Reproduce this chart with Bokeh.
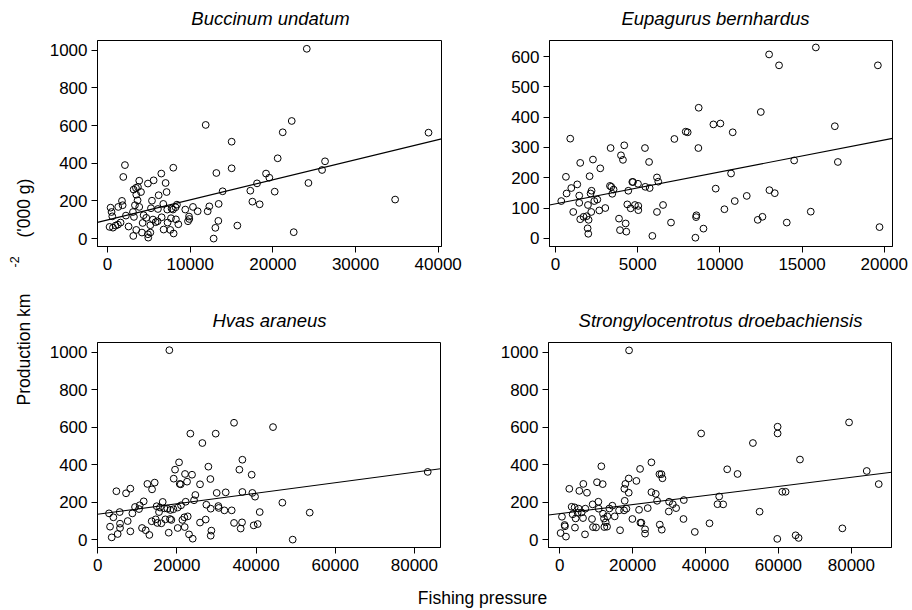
import math
from bokeh.plotting import figure
from bokeh.layouts import row, column
from bokeh.models import Range1d, FixedTicker, BasicTickFormatter
from bokeh.core.properties import value
from bokeh.embed import file_html
from bokeh.resources import INLINE

FONT = "Liberation Sans"

# ---------------- data ----------------
titles = ["Buccinum undatum", "Eupagurus bernhardus", "Hvas araneus",
          "Strongylocentrotus droebachiensis"]
x_label = "Fishing pressure"
y_label_main = "Production km"
y_label_sup = "-2"
y_label_unit = "('000 g)"

buc_x = [24100, 11870, 22280, 21190, 38830, 15010, 20580, 26310, 2100, 7950,
         15010, 25950, 13160, 6500, 19170, 1900, 19570, 7020, 3830, 4880,
         5570, 18080, 24300, 3150, 3430, 3670, 4040, 7140, 13920, 17270,
         20220, 3470, 6180, 1740, 3630, 5370, 17520, 18400, 1820, 360,
         1290, 3310, 3830, 5250, 6090, 6740, 7220, 7750, 7910, 8230,
         8390, 9400, 10330, 10900, 12110, 12310, 13440, 480, 570, 2220,
         3070, 3190, 4360, 4680, 5490, 5810, 6050, 6540, 7260, 7670,
         8270, 8560, 9730, 9850, 9890, 13400, 240, 650, 970, 1250,
         1570, 2540, 3470, 4240, 5170, 4160, 5170, 4880, 4920, 3110,
         6780, 7590, 7990, 13040, 15700, 12830, 22520, 34790]
buc_y = [1007, 603, 624, 564, 562, 514, 426, 410, 390, 376,
         373, 364, 348, 345, 345, 327, 323, 295, 307, 292,
         309, 293, 295, 260, 269, 274, 247, 247, 251, 254,
         249, 233, 230, 200, 203, 201, 196, 182, 177, 164,
         168, 177, 168, 161, 157, 184, 154, 159, 154, 166,
         180, 154, 168, 145, 145, 171, 184, 141, 118, 122,
         141, 115, 124, 110, 101, 87, 92, 113, 85, 108,
         102, 76, 92, 117, 104, 94, 62, 58, 69, 74,
         85, 64, 46, 83, 71, 32, 32, 23, 5, 14,
         48, 46, 27, 57, 69, 0, 34, 207]

eup_x = [15840, 12995, 13600, 19615, 8710, 12490, 9605, 10030, 16995, 7920,
         8040, 10780, 7230, 893, 3350, 4180, 5440, 8690, 3980, 4100,
         1500, 2275, 5690, 2720, 14520, 17180, 630, 2070, 10680, 6170,
         6250, 4670, 4710, 5015, 1320, 955, 3310, 3390, 3530, 3450,
         5460, 5725, 670, 1440, 2190, 2130, 4425, 9745, 13015, 13340,
         11635, 2355, 2540, 345, 1440, 1970, 4365, 4830, 5035, 4570,
         5035, 6540, 10905, 10275, 1075, 2170, 2660, 3025, 6170, 1705,
         1890, 1500, 2010, 3860, 8570, 8550, 12590, 12305, 15530, 4265,
         7025, 14070, 1950, 3920, 4305, 1990, 9000, 5890, 8510, 19715]
eup_y = [630, 607, 571, 571, 431, 417, 376, 379, 370, 352,
         350, 350, 328, 329, 298, 307, 298, 298, 274, 259,
         249, 260, 252, 231, 257, 252, 203, 205, 214, 201,
         187, 186, 186, 180, 178, 166, 173, 170, 161, 147,
         170, 166, 148, 141, 157, 148, 157, 164, 159, 149,
         140, 123, 128, 123, 117, 110, 112, 110, 107, 99,
         93, 110, 123, 96, 87, 87, 92, 100, 87, 71,
         73, 63, 61, 65, 76, 70, 71, 61, 88, 49,
         52, 52, 33, 27, 22, 15, 32, 8, 2, 37]

hya_x = [18100, 34440, 44290, 23410, 29810, 26440, 36550, 20550, 27960, 19540,
         35790, 22060, 23830, 38900, 19200, 28470, 22570, 20720, 20970, 12550,
         14400, 25850, 13730, 8250, 4720, 7160, 24670, 30060, 32340, 36550,
         39070, 39750, 11620, 16420, 22230, 24340, 46650, 10610, 9430, 10440,
         14900, 15750, 16840, 15490, 17600, 18360, 19120, 20210, 21050, 27450,
         28550, 30480, 30570, 32000, 33850, 2860, 5560, 8760, 3960, 7580,
         5640, 3120, 5640, 8250, 5050, 3540, 13640, 15070, 16080, 14650,
         17090, 18270, 18610, 21390, 21890, 22740, 25850, 27280, 11200, 12130,
         13050, 17940, 20210, 21980, 23070, 24000, 28720, 28550, 34440, 36460,
         36120, 39410, 40420, 40930, 53560, 49260, 83370]
hya_y = [1010, 623, 600, 565, 565, 515, 426, 412, 389, 373,
         373, 350, 346, 346, 325, 323, 309, 297, 295, 297,
         304, 295, 268, 272, 258, 247, 238, 249, 252, 254,
         249, 229, 204, 201, 202, 210, 197, 183, 174, 163,
         178, 171, 167, 147, 165, 158, 162, 171, 183, 186,
         165, 179, 169, 156, 156, 140, 147, 140, 119, 99,
         85, 69, 62, 44, 30, 12, 98, 89, 87, 108,
         108, 110, 105, 105, 119, 124, 91, 107, 62, 50,
         25, 37, 62, 67, 28, 5, 48, 21, 89, 92,
         59, 76, 83, 147, 144, 0, 361]

str_x = [19040, 79360, 59770, 59770, 38810, 53000, 65900, 25170, 11440, 22060,
         45950, 84210, 27370, 27920, 48790, 28190, 18950, 21050, 10250, 6500,
         11810, 18030, 87500, 2650, 17750, 5400, 7500, 18950, 25170, 26360,
         61050, 61960, 43750, 10620, 26730, 17850, 30020, 34050, 3300, 4120,
         9060, 10710, 14460, 13640, 5220, 7050, 6040, 18310, 17670, 21780,
         24160, 31030, 31940, 29930, 43290, 44850, 54830, 3570, 4390, 4940,
         6410, 8880, 11900, 12170, 13090, 15100, 16290, 19950, 22150, 22420,
         33960, 41100, 12630, 13000, 12260, 9150, 9980, 4210, 1370, 1460,
         640, 16570, 23430, 23430, 27460, 28010, 37070, 270, 1740, 6960,
         59680, 64710, 65530, 77530]
str_y = [1009, 625, 602, 566, 566, 515, 427, 412, 391, 377,
         375, 366, 349, 349, 350, 327, 326, 313, 306, 297,
         296, 297, 296, 271, 271, 260, 250, 250, 253, 244,
         255, 255, 230, 202, 207, 207, 202, 211, 175, 172,
         188, 165, 181, 166, 165, 165, 145, 165, 156, 159,
         168, 189, 168, 150, 189, 188, 149, 135, 113, 143,
         115, 110, 138, 112, 124, 124, 156, 110, 90, 90,
         110, 87, 92, 69, 67, 67, 65, 64, 78, 71,
         122, 50, 55, 32, 80, 53, 41, 35, 16, 28,
         4, 23, 9, 60]

# fitted lines, end points at the plot edges
buc_fit_x = [-1220, 40400]
buc_fit_y = [86, 529]
eup_fit_x = [-370, 20505]
eup_fit_y = [110, 330]
hya_fit_x = [-50, 86600]
hya_fit_y = [135, 378]
str_fit_x = [-3050, 91000]
str_fit_y = [131, 359]

buc_xticks = [0, 10000, 20000, 30000, 40000]
eup_xticks = [0, 5000, 10000, 15000, 20000]
hya_xticks = [0, 20000, 40000, 60000, 80000]
str_xticks = [0, 20000, 40000, 60000, 80000]
yticks_1000 = [0, 200, 400, 600, 800, 1000]
yticks_600 = [0, 100, 200, 300, 400, 500, 600]


def panel(xs, ys, fx, fy, xr, yr, xticks, yticks, w, h, bl, br, bt, bb):
    p = figure(width=w, height=h, x_range=Range1d(*xr), y_range=Range1d(*yr),
               toolbar_location=None, output_backend="svg",
               min_border_left=bl, min_border_right=br,
               min_border_top=bt, min_border_bottom=bb)
    p.grid.visible = False
    p.outline_line_color = "black"
    p.outline_line_width = 1
    p.background_fill_color = "white"
    p.border_fill_color = "white"
    p.line(fx, fy, line_color="black", line_width=1.1)
    p.scatter(xs, ys, marker="circle", size=6.8, fill_color=None,
              line_color="black", line_width=1)
    p.xaxis.ticker = FixedTicker(ticks=xticks)
    p.yaxis.ticker = FixedTicker(ticks=yticks)
    for ax in (p.xaxis[0], p.yaxis[0]):
        ax.formatter = BasicTickFormatter(use_scientific=False)
        ax.major_tick_out = 6
        ax.major_tick_in = 0
        ax.minor_tick_line_color = None
        ax.axis_line_color = "black"
        ax.major_tick_line_color = "black"
        ax.major_label_text_font = FONT
        ax.major_label_text_font_size = "17px"
        ax.major_label_text_color = "black"
    p.xaxis.major_label_standoff = 5
    p.yaxis.major_label_standoff = 4
    return p


f1 = panel(buc_x, buc_y, buc_fit_x, buc_fit_y, (-1220, 40400), (-42, 1051),
           buc_xticks, yticks_1000, 440, 262, 57, 39, 10, 46)
f2 = panel(eup_x, eup_y, eup_fit_x, eup_fit_y, (-370, 20505), (-27, 653),
           eup_xticks, yticks_600, 432, 262, 69, 20, 10, 46)
f3 = panel(hya_x, hya_y, hya_fit_x, hya_fit_y, (-50, 86600), (-42, 1051),
           hya_xticks, yticks_1000, 440, 248, 57, 40, 10, 33)
f4 = panel(str_x, str_y, str_fit_x, str_fit_y, (-3050, 91000), (-42, 1051),
           str_xticks, yticks_1000, 432, 248, 68, 21, 10, 33)


def blank(w, h):
    p = figure(width=w, height=h, x_range=Range1d(0, w), y_range=Range1d(0, h),
               toolbar_location=None, output_backend="svg", min_border=0)
    p.axis.visible = False
    p.grid.visible = False
    p.outline_line_color = None
    p.background_fill_color = "white"
    p.border_fill_color = "white"
    return p


def title_row(h, cy, left_title, right_title, lx, rx):
    t = blank(872, h)
    t.text(x=[lx - 40, rx - 40], y=[h - cy, h - cy], text=[left_title, right_title],
           text_align="center", text_baseline="middle", text_font=value(FONT),
           text_font_size="18.5px", text_font_style="italic", text_color="black")
    return t


t1 = title_row(30, 17.5, titles[0], titles[1], 270, 715)
t2 = title_row(40, 28, titles[2], titles[3], 269, 720)

ylab = blank(40, 610)
ylab.text(x=[23], y=[610 - 405], text=[y_label_main], angle=math.pi / 2,
          text_align="left", text_baseline="middle", text_font=value(FONT),
          text_font_size="17.5px", text_color="black")
ylab.text(x=[14], y=[610 - 267], text=[y_label_sup], angle=math.pi / 2,
          text_align="left", text_baseline="middle", text_font=value(FONT),
          text_font_size="12.5px", text_color="black")
ylab.text(x=[23], y=[610 - 237], text=[y_label_unit], angle=math.pi / 2,
          text_align="left", text_baseline="middle", text_font=value(FONT),
          text_font_size="17.5px", text_color="black")

xlab = blank(872, 30)
xlab.text(x=[482 - 40], y=[30 - 17], text=[x_label], text_align="center",
          text_baseline="middle", text_font=value(FONT), text_font_size="17.5px",
          text_color="black")

layout = row(ylab, column(t1, row(f1, f2), t2, row(f3, f4), xlab))

open("out.html", "w").write(file_html(layout, INLINE))
